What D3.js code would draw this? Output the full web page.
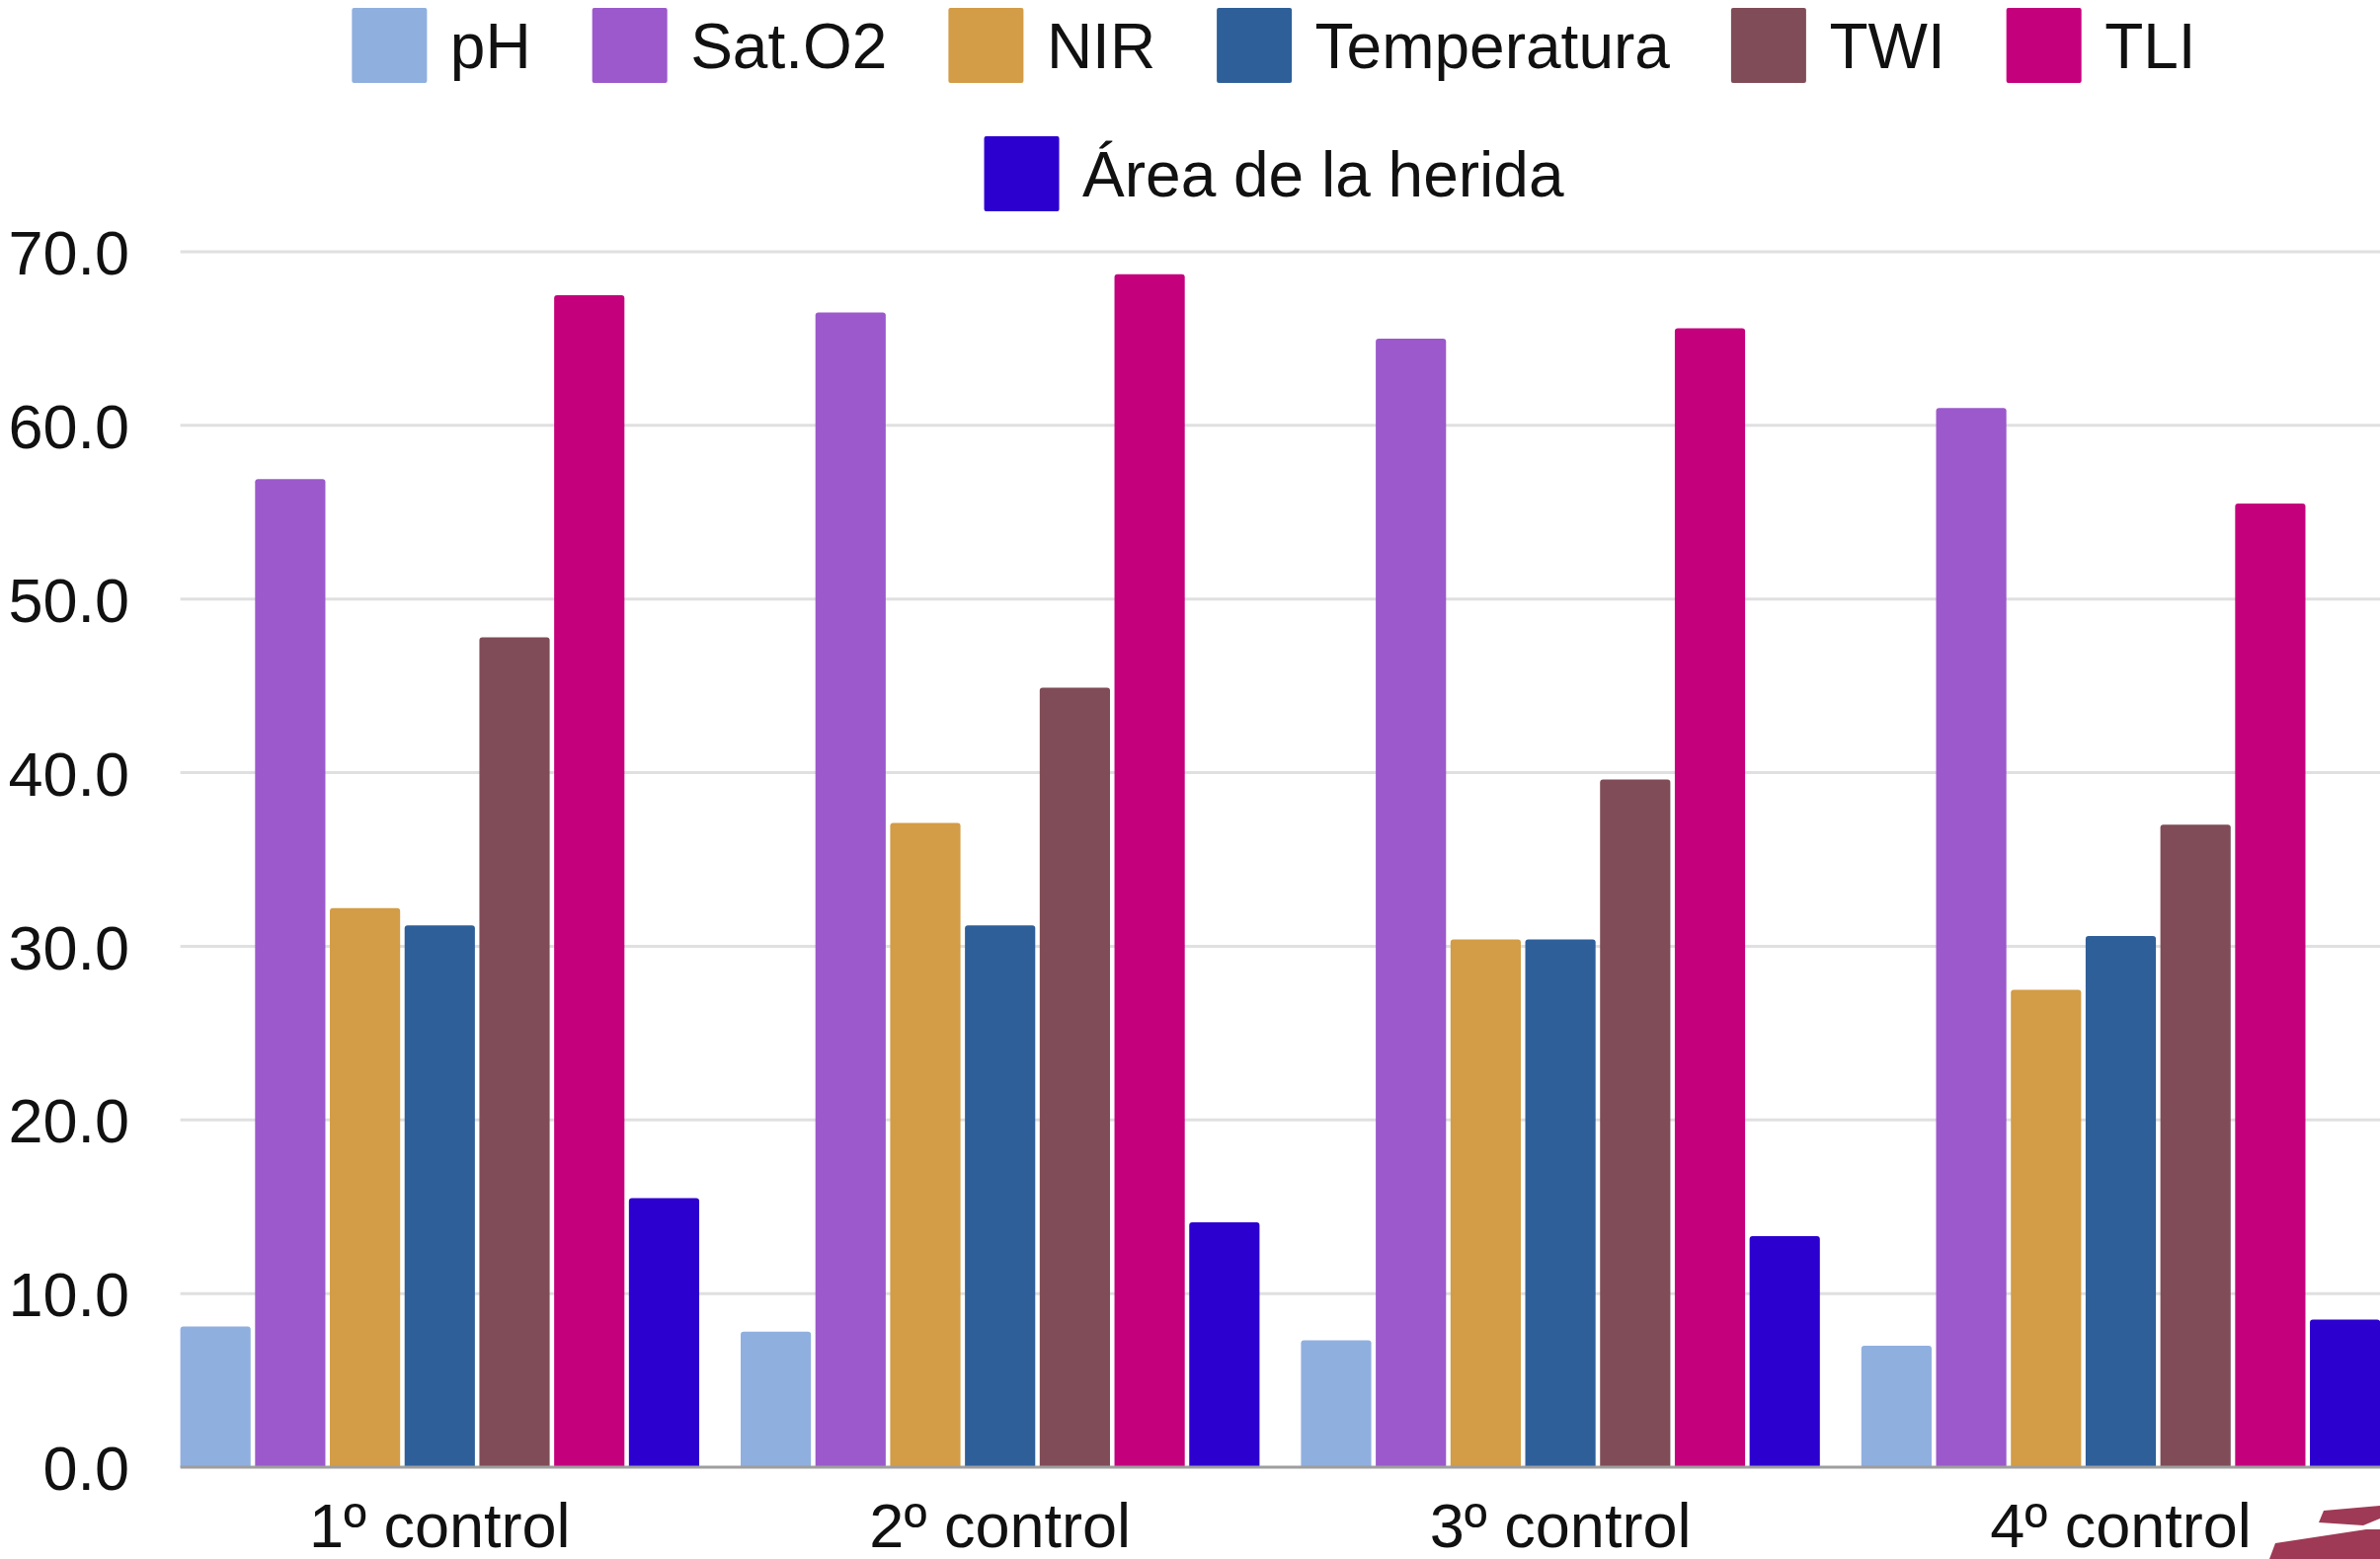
<!DOCTYPE html>
<html>
<head>
<meta charset="utf-8">
<script src="https://cdn.jsdelivr.net/npm/d3@7"></script>
<style>
  html, body { margin: 0; padding: 0; background: #ffffff; }
  svg { display: block; }
  text { font-family: "Liberation Sans", Arial, sans-serif; fill: #111; }
</style>
</head>
<body>
<script>
// ---- data ----
const categories = ["1º control", "2º control", "3º control", "4º control"];
const seriesNames = ["pH", "Sat.O2", "NIR", "Temperatura", "TWI", "TLI", "Área de la herida"];
const seriesColors = ["#8FAFDF", "#9B59CB", "#D39C46", "#2E5F99", "#804C57", "#C4007C", "#2C00CF"];
const pH = [8.1, 7.8, 7.3, 7.0];
const satO2 = [56.9, 66.5, 65.0, 61.0];
const nir = [32.2, 37.1, 30.4, 27.5];
const temperatura = [31.2, 31.2, 30.4, 30.6];
const twi = [47.8, 44.9, 39.6, 37.0];
const tli = [67.5, 68.7, 65.6, 55.5];
const areaHerida = [15.5, 14.1, 13.3, 8.5];
const seriesValues = [pH, satO2, nir, temperatura, twi, tli, areaHerida];
const yTicks = [0, 10, 20, 30, 40, 50, 60, 70];

// ---- layout ----
const W = 2410, H = 1579;
const plotLeft = 182.6, plotRight = 2410.2;
const yTop = 255, yBottom = 1486;
const fontSize = 63;
const legendFont = 64;

const svg = d3.select("body").append("svg").attr("width", W).attr("height", H);
svg.append("rect").attr("width", W).attr("height", H).attr("fill", "#ffffff");

const y = d3.scaleLinear().domain([0, 70]).range([yBottom, yTop]);
const x0 = d3.scaleBand().domain(categories).range([plotLeft, plotRight])
  .paddingInner(0.074).paddingOuter(0).align(0);
const x1 = d3.scaleBand().domain(seriesNames).range([0, x0.bandwidth()])
  .paddingInner(0.06).paddingOuter(0);
const color = d3.scaleOrdinal().domain(seriesNames).range(seriesColors);

// gridlines
svg.append("g").selectAll("line").data(yTicks.filter(d => d !== 0)).join("line")
  .attr("x1", plotLeft).attr("x2", W)
  .attr("y1", d => y(d)).attr("y2", d => y(d))
  .attr("stroke", "#e0e0e0").attr("stroke-width", 3);

// y axis labels
const yAxis = d3.axisLeft(y).tickValues(yTicks).tickFormat(d3.format(".1f")).tickSize(0).tickPadding(0);
const gy = svg.append("g").attr("transform", "translate(131,0)").call(yAxis);
gy.select(".domain").remove();
gy.selectAll("text").attr("font-size", fontSize).attr("fill", "#111")
  .attr("font-family", "Liberation Sans, Arial, sans-serif").attr("dy", "0.36em");

// bars
function barPath(x, yv, w, h, r) {
  r = Math.min(r, h, w / 2);
  return `M${x},${yv + h}V${yv + r}Q${x},${yv} ${x + r},${yv}H${x + w - r}Q${x + w},${yv} ${x + w},${yv + r}V${yv + h}Z`;
}
const groups = svg.append("g").selectAll("g").data(categories).join("g")
  .attr("transform", d => `translate(${x0(d)},0)`);
groups.selectAll("path").data((c, ci) => seriesNames.map((s, si) => ({ s, v: seriesValues[si][ci] }))).join("path")
  .attr("d", d => barPath(x1(d.s), y(d.v), x1.bandwidth(), y(0) - y(d.v), 3))
  .attr("fill", d => color(d.s));

// baseline
svg.append("line").attr("x1", plotLeft).attr("x2", W).attr("y1", y(0)).attr("y2", y(0))
  .attr("stroke", "#9e9e9e").attr("stroke-width", 3);

// x axis labels
const xAxis = d3.axisBottom(x0).tickSize(0).tickPadding(0);
const gx = svg.append("g").attr("transform", `translate(0,${yBottom})`).call(xAxis);
gx.select(".domain").remove();
gx.selectAll("text").attr("font-size", fontSize).attr("fill", "#111")
  .attr("font-family", "Liberation Sans, Arial, sans-serif").attr("dy", null).attr("y", 81);

// legend
const sw = 76, gapText = 23.5, gapItem = 62, legendCenter = 1290;
const rows = [[0, 1, 2, 3, 4, 5], [6]];
const rowY = [8, 138];
const legend = svg.append("g");
rows.forEach((row, ri) => {
  const g = legend.append("g");
  let xPos = 0;
  row.forEach((si, k) => {
    g.append("rect").attr("x", xPos).attr("y", rowY[ri]).attr("width", sw).attr("height", sw)
      .attr("rx", 2).attr("fill", seriesColors[si]);
    const t = g.append("text").attr("x", xPos + sw + gapText).attr("y", rowY[ri] + sw / 2)
      .attr("dy", "0.36em").attr("font-size", legendFont).text(seriesNames[si]);
    const tw = t.node().getComputedTextLength();
    xPos += sw + gapText + tw + (k < row.length - 1 ? gapItem : 0);
  });
  g.attr("transform", `translate(${legendCenter - xPos / 2},0)`);
});

// cropped logo fragment at bottom right
svg.append("path")
  .attr("d", "M2348,1542L2353,1530L2410,1525L2410,1538L2393,1545Z")
  .attr("fill", "#9E3A55");
svg.append("path")
  .attr("d", "M2298,1579L2304,1563L2396,1549L2410,1549L2410,1579Z")
  .attr("fill", "#9E3A55");
</script>
</body>
</html>
